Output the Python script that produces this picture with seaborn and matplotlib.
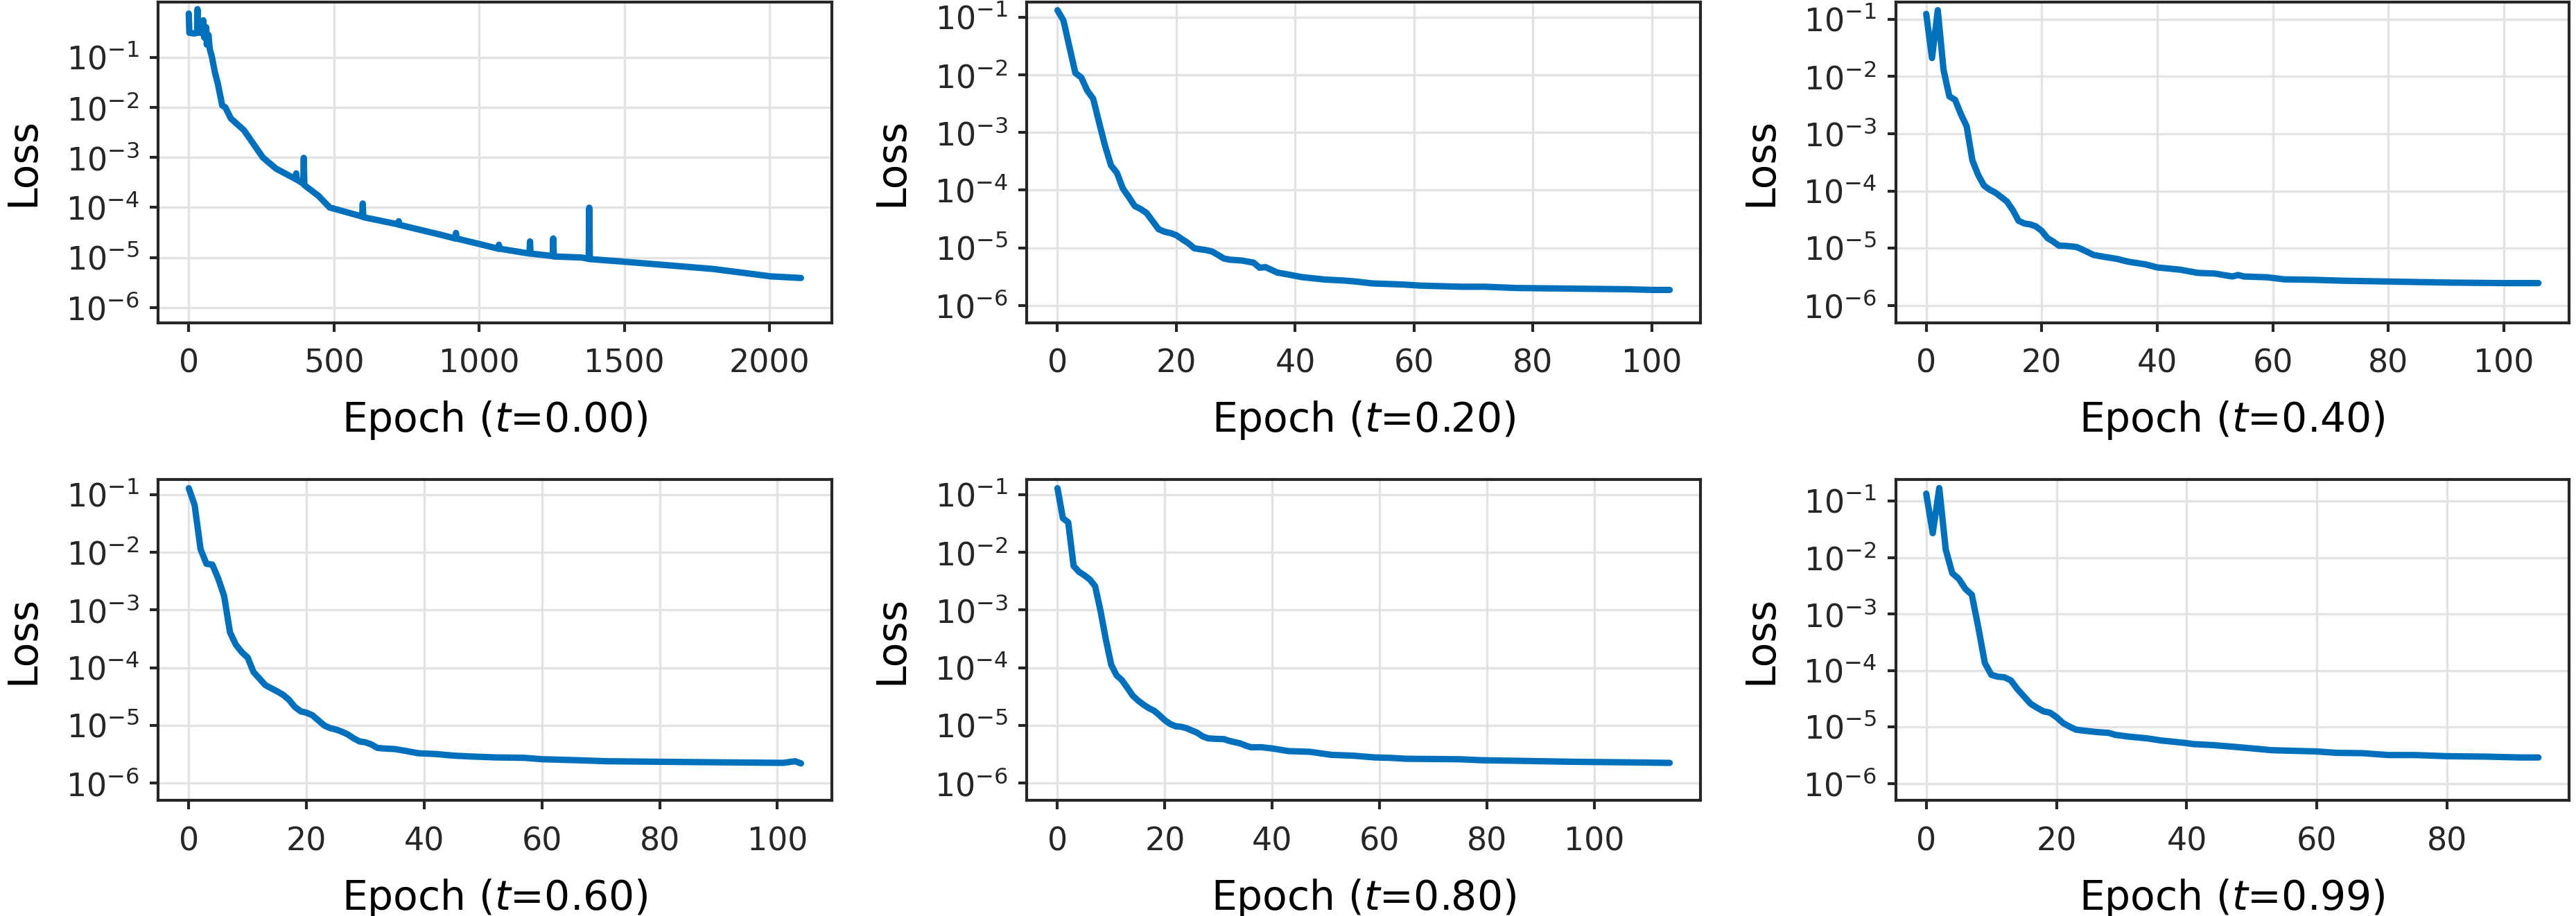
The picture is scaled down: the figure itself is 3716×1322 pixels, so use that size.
import numpy as np
import pandas as pd
import matplotlib
matplotlib.use("Agg")
import matplotlib.pyplot as plt
import seaborn as sns
from matplotlib.ticker import NullLocator, FixedLocator

# ================================
# DATA
# ================================

times = ["0.00", "0.20", "0.40", "0.60", "0.80", "0.99"]

epochs_t000 = [0, 2, 20, 29, 30, 32, 48, 50, 53, 59, 60, 62, 68, 72, 80, 90, 100, 115,
               126, 145, 190, 255, 300, 368, 370, 372, 394, 396, 398, 447, 485,
               597, 599, 601, 721, 723, 725, 862, 918, 920, 922, 994, 1066, 1068, 1070,
               1173, 1175, 1177, 1253, 1255, 1257, 1353, 1377, 1379, 1381, 1504, 1650,
               1806, 2004, 2108]
loss_t000 = [0.75, 0.31, 0.30, 0.31, 0.92, 0.32, 0.30, 0.55, 0.25, 0.24, 0.40, 0.18, 0.28,
             0.15, 0.10, 0.05, 0.03, 0.011,
             1.0e-2, 6.0e-3, 3.5e-3, 1.0e-3, 6.0e-4, 3.7e-4, 4.8e-4, 3.6e-4, 3.0e-4, 9.8e-4,
             2.8e-4, 1.7e-4, 1.0e-4,
             6.6e-5, 1.2e-4, 6.4e-5, 4.6e-5, 5.3e-5, 4.5e-5, 2.9e-5, 2.4e-5, 3.1e-5, 2.4e-5,
             1.9e-5, 1.5e-5, 1.8e-5, 1.5e-5,
             1.2e-5, 2.1e-5, 1.2e-5, 1.07e-5, 2.4e-5, 1.05e-5, 1.0e-5, 9.4e-6, 9.9e-5, 9.3e-6,
             8.2e-6, 7.0e-6, 5.9e-6, 4.2e-6, 3.9e-6]

epochs_t020 = [0, 1, 3, 4, 5, 6, 7, 8, 9, 10, 11, 12, 13, 14, 15, 16, 17, 18, 19, 20, 21, 22, 23,
               24, 25, 26, 27, 28, 29, 31, 33, 34, 35, 37, 39, 41, 45, 48, 50, 53, 58, 61, 68,
               72, 77, 86, 96, 100, 103]
loss_t020 = [0.134, 0.089, 0.0109, 9.1e-3, 5.4e-3, 3.9e-3, 1.5e-3, 5.9e-4, 2.7e-4, 2.0e-4,
             1.07e-4, 7.6e-5, 5.3e-5, 4.7e-5, 4.0e-5, 2.9e-5, 2.1e-5, 1.9e-5, 1.8e-5, 1.65e-5,
             1.4e-5, 1.2e-5, 9.8e-6, 9.4e-6, 9.1e-6, 8.6e-6, 7.5e-6, 6.5e-6, 6.2e-6, 6.0e-6,
             5.5e-6, 4.5e-6, 4.6e-6, 3.7e-6, 3.4e-6, 3.1e-6, 2.8e-6, 2.7e-6, 2.6e-6, 2.4e-6,
             2.3e-6, 2.2e-6, 2.1e-6, 2.1e-6, 2.0e-6, 1.95e-6, 1.9e-6, 1.85e-6, 1.85e-6]

epochs_t040 = list(range(0, 25)) + [26, 27, 29, 31, 33, 35, 38, 40, 42, 44, 47, 50, 53, 54, 55,
                                    59, 62, 67, 72, 81, 91, 100, 106]
loss_t040 = [0.124, 0.021, 0.144, 0.013, 4.5e-3, 3.9e-3, 2.2e-3, 1.35e-3, 3.4e-4, 1.9e-4,
             1.24e-4, 1.05e-4, 9.3e-5, 7.8e-5, 6.5e-5, 4.6e-5, 3.0e-5, 2.7e-5, 2.6e-5, 2.4e-5,
             2.0e-5, 1.5e-5, 1.3e-5, 1.1e-5, 1.1e-5,
             1.05e-5, 9.5e-6, 7.6e-6, 7.0e-6, 6.5e-6, 5.8e-6, 5.2e-6, 4.6e-6, 4.4e-6, 4.2e-6,
             3.7e-6, 3.6e-6, 3.2e-6, 3.4e-6, 3.2e-6, 3.1e-6, 2.85e-6, 2.8e-6, 2.7e-6, 2.6e-6,
             2.5e-6, 2.45e-6, 2.45e-6]

epochs_t060 = list(range(0, 34)) + [35, 37, 39, 42, 45, 48, 52, 57, 60, 66, 71, 80, 90, 101,
                                    103, 104]
loss_t060 = [0.128, 0.065, 0.0113, 6.3e-3, 6.1e-3, 3.5e-3, 1.75e-3, 4.1e-4, 2.5e-4, 1.86e-4,
             1.5e-4, 8.4e-5, 6.5e-5, 5.0e-5, 4.4e-5, 3.9e-5, 3.4e-5, 2.8e-5, 2.1e-5, 1.76e-5,
             1.66e-5, 1.5e-5, 1.23e-5, 1.0e-5, 9.0e-6, 8.5e-6, 7.8e-6, 7.0e-6, 6.0e-6, 5.3e-6,
             5.1e-6, 4.7e-6, 4.1e-6, 4.0e-6,
             3.9e-6, 3.6e-6, 3.3e-6, 3.2e-6, 3.0e-6, 2.9e-6, 2.8e-6, 2.75e-6, 2.6e-6, 2.5e-6,
             2.4e-6, 2.35e-6, 2.3e-6, 2.25e-6, 2.4e-6, 2.2e-6]

epochs_t080 = list(range(0, 30)) + [31, 32, 34, 35, 36, 38, 40, 43, 47, 51, 55, 59, 62, 65, 75,
                                    79, 85, 96, 106, 114]
loss_t080 = [0.129, 0.039, 0.033, 5.8e-3, 4.6e-3, 4.0e-3, 3.4e-3, 2.6e-3, 9.8e-4, 3.1e-4,
             1.13e-4, 7.4e-5, 6.1e-5, 4.5e-5, 3.3e-5, 2.7e-5, 2.3e-5, 2.0e-5, 1.8e-5, 1.5e-5,
             1.23e-5, 1.06e-5, 9.7e-6, 9.5e-6, 9.0e-6, 8.2e-6, 7.5e-6, 6.5e-6, 6.0e-6, 5.9e-6,
             5.8e-6, 5.4e-6, 4.9e-6, 4.5e-6, 4.2e-6, 4.2e-6, 4.0e-6, 3.6e-6, 3.5e-6, 3.1e-6,
             3.0e-6, 2.8e-6, 2.75e-6, 2.65e-6, 2.6e-6, 2.5e-6, 2.45e-6, 2.35e-6, 2.3e-6, 2.25e-6]

epochs_t099 = list(range(0, 25)) + [26, 28, 29, 31, 34, 36, 38, 40, 41, 44, 48, 50, 53, 60, 63,
                                    67, 71, 75, 80, 86, 91, 94]
loss_t099 = [0.135, 0.027, 0.17, 0.0138, 5.3e-3, 4.2e-3, 2.8e-3, 2.2e-3, 5.8e-4, 1.36e-4,
             8.4e-5, 7.8e-5, 7.6e-5, 6.7e-5, 4.7e-5, 3.5e-5, 2.6e-5, 2.2e-5, 1.9e-5, 1.8e-5,
             1.5e-5, 1.18e-5, 1.02e-5, 9.0e-6, 8.7e-6,
             8.2e-6, 7.9e-6, 7.3e-6, 6.8e-6, 6.3e-6, 5.8e-6, 5.5e-6, 5.2e-6, 5.0e-6, 4.8e-6,
             4.4e-6, 4.2e-6, 3.9e-6, 3.7e-6, 3.5e-6, 3.45e-6, 3.2e-6, 3.2e-6, 3.05e-6, 3.0e-6,
             2.9e-6, 2.9e-6]

yticks = [1e-6, 1e-5, 1e-4, 1e-3, 1e-2, 1e-1]

all_epochs = [epochs_t000, epochs_t020, epochs_t040, epochs_t060, epochs_t080, epochs_t099]
all_loss = [loss_t000, loss_t020, loss_t040, loss_t060, loss_t080, loss_t099]

# ================================
# STYLE
# ================================

sns.set_theme(style="whitegrid")
plt.rcParams.update({
    "font.family": ["DejaVu Sans"],
    "axes.edgecolor": "#262626",
    "axes.linewidth": 1.0,
    "grid.color": "#e3e3e3",
    "grid.linewidth": 0.8,
    "xtick.bottom": True,
    "ytick.left": True,
    "xtick.major.size": 3.0,
    "ytick.major.size": 3.0,
    "xtick.major.width": 1.0,
    "ytick.major.width": 1.0,
    "xtick.major.pad": 5.8,
    "xtick.color": "#262626",
    "ytick.color": "#262626",
    "xtick.labelsize": 11,
    "ytick.labelsize": 11,
    "axes.labelsize": 14,
    "axes.labelcolor": "black",
})

line_color = "#0070BD"

# ================================
# PLOT
# ================================

fig, axes = plt.subplots(2, 3, figsize=(3716 / 300, 1322 / 300), dpi=300)
fig.subplots_adjust(left=0.0614, right=0.9973, top=0.998, bottom=0.126,
                    wspace=0.29, hspace=0.49)

for ax, t, ep, loss in zip(axes.flat, times, all_epochs, all_loss):
    df = pd.DataFrame({"epoch": ep, "loss": loss})
    sns.lineplot(data=df, x="epoch", y="loss", ax=ax, color=line_color,
                 linewidth=2.2, estimator=None)
    ax.set_yscale("log")
    ax.set_ylim(5e-7, max(loss) * 1.4)
    ax.yaxis.set_major_locator(FixedLocator(yticks))
    ax.yaxis.set_minor_locator(NullLocator())
    ax.set_xlabel(r"Epoch ($t$=" + t + ")", labelpad=7)
    ax.set_ylabel("Loss", labelpad=8)
    for s in ax.spines.values():
        s.set_visible(True)
        s.set_color("#262626")
        s.set_linewidth(1.0)

fig.savefig("out.png", dpi=300)
